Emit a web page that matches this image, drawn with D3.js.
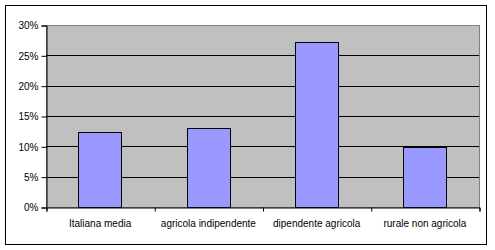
<!DOCTYPE html>
<html>
<head>
<meta charset="utf-8">
<script src="https://cdn.jsdelivr.net/npm/d3@7"></script>
<style>
  body { margin: 0; background: #fff; }
  text { font-family: "Liberation Sans", Arial, sans-serif; font-size: 10px; fill: #000; }
</style>
</head>
<body>
<svg id="chart" width="495" height="250"></svg>
<script>
// categories and values (share of total)
var categories = ["Italiana media", "agricola indipendente", "dipendente agricola", "rurale non agricola"];
var values = [0.123, 0.13, 0.272, 0.099];
var yTicks = [0, 0.05, 0.10, 0.15, 0.20, 0.25, 0.30];

var plot = {left: 46, top: 25, right: 479, bottom: 207};

var svg = d3.select("#chart");

// outer frame
svg.append("rect")
    .attr("x", 5.5).attr("y", 5.5)
    .attr("width", 481).attr("height", 239)
    .attr("fill", "#fff")
    .attr("stroke", "#000");

// scales
var x = d3.scaleBand()
    .domain(categories)
    .range([plot.left, plot.right])
    .paddingInner(0.6)
    .paddingOuter(0.3);

var y = d3.scaleLinear()
    .domain([0, 0.3])
    .range([plot.bottom, plot.top]);

// plot area background
svg.append("rect")
    .attr("x", plot.left + 0.5).attr("y", plot.top + 0.5)
    .attr("width", plot.right - plot.left).attr("height", plot.bottom - plot.top)
    .attr("fill", "#c0c0c0")
    .attr("stroke", "#808080");

// gridlines
svg.append("g")
    .selectAll("line")
    .data(yTicks.slice(1, -1))
    .enter().append("line")
    .attr("x1", plot.left).attr("x2", plot.right)
    .attr("y1", function(d) { return Math.round(y(d)) + 0.5; })
    .attr("y2", function(d) { return Math.round(y(d)) + 0.5; })
    .attr("stroke", "#000");

// bars
svg.append("g")
    .selectAll("rect")
    .data(values)
    .enter().append("rect")
    .attr("x", function(d, i) { return Math.round(x(categories[i])) + 0.5; })
    .attr("y", function(d) { return Math.round(y(d)) + 0.5; })
    .attr("width", Math.round(x.bandwidth()))
    .attr("height", function(d) { return Math.round(y(0)) - Math.round(y(d)); })
    .attr("fill", "#9999ff")
    .attr("stroke", "#000");

// y axis
var yAxis = d3.axisLeft(y)
    .tickValues(yTicks)
    .tickFormat(d3.format(".0%"))
    .tickSize(5)
    .tickPadding(3);

var gy = svg.append("g")
    .attr("transform", "translate(" + (plot.left + 0.5) + ",0.5)")
    .call(yAxis);
gy.selectAll("path, line").attr("stroke", "#000");
gy.selectAll("text").attr("font-size", null).attr("font-family", null);

// x axis: tick marks at category boundaries
var xEdges = d3.scaleLinear().domain([0, categories.length]).range([plot.left, plot.right]);
var gxTicks = svg.append("g")
    .attr("transform", "translate(0.5," + (plot.bottom + 0.5) + ")")
    .call(d3.axisBottom(xEdges).ticks(categories.length).tickFormat("").tickSize(4).tickSizeOuter(4));
gxTicks.selectAll("path, line").attr("stroke", "#000");

// x labels
var gx = svg.append("g")
    .attr("transform", "translate(0," + plot.bottom + ")")
    .call(d3.axisBottom(x).tickSize(0).tickPadding(13));
gx.select(".domain").remove();
gx.selectAll("text").attr("font-size", null).attr("font-family", null);
</script>
</body>
</html>
